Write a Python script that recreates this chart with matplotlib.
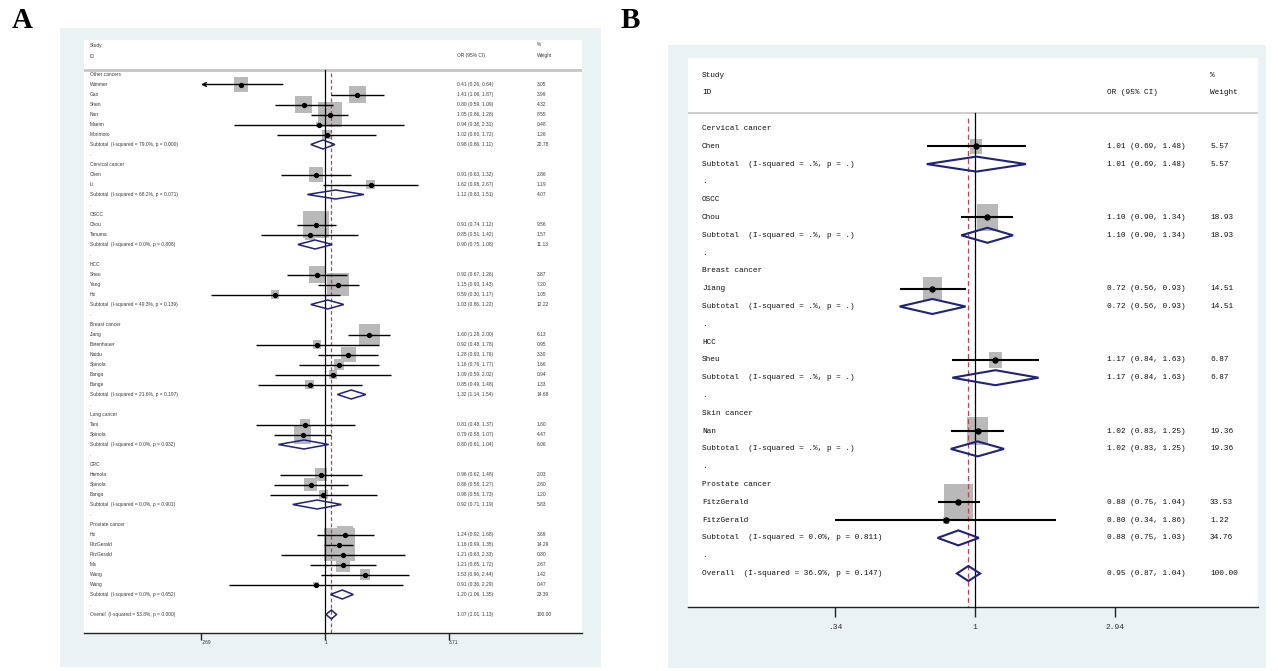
import numpy as np
import matplotlib.pyplot as plt
import matplotlib.transforms as mtransforms
from matplotlib.patches import Rectangle, Polygon

# ---------------------------------------------------------------
# Panel A: all cancers, by subgroup
# ---------------------------------------------------------------
a_groups = ["Other cancers", "Cervical cancer", "OSCC", "HCC",
            "Breast cancer", "Lung cancer", "CRC", "Prostate cancer"]
a_studies = [
    ["Wimmer", "Gao", "Shen", "Nan", "Maeim", "Morimoto"],
    ["Chen", "Li"],
    ["Chou", "Tanuma"],
    ["Sheu", "Yang", "Ho"],
    ["Jiang", "Betenhauer", "Naidu", "Spinola", "Banga", "Bange"],
    ["Tani", "Spinola"],
    ["Hemola", "Spinola", "Banga"],
    ["Ho", "FitzGerald", "FitzGerald", "Ma", "Wang", "Wang"],
]
a_or = [[0.41, 1.41, 0.80, 1.05, 0.94, 1.02], [0.91, 1.62], [0.91, 0.85],
        [0.92, 1.15, 0.59], [1.60, 0.92, 1.28, 1.16, 1.09, 0.85], [0.81, 0.79],
        [0.96, 0.86, 0.98], [1.24, 1.16, 1.21, 1.21, 1.53, 0.91]]
a_lo = [[0.26, 1.06, 0.59, 0.86, 0.38, 0.60], [0.63, 0.98], [0.74, 0.51],
        [0.67, 0.93, 0.30], [1.28, 0.48, 0.93, 0.76, 0.59, 0.49], [0.48, 0.58],
        [0.62, 0.58, 0.56], [0.92, 0.99, 0.63, 0.85, 0.96, 0.36]]
a_hi = [[0.64, 1.87, 1.09, 1.28, 2.31, 1.72], [1.32, 2.67], [1.12, 1.42],
        [1.26, 1.43, 1.17], [2.00, 1.78, 1.76, 1.77, 2.02, 1.48], [1.37, 1.07],
        [1.48, 1.27, 1.73], [1.68, 1.35, 2.33, 1.72, 2.44, 2.29]]
a_wt = [[3.05, 3.99, 4.32, 8.55, 0.48, 1.26], [2.86, 1.19], [9.56, 1.57],
        [3.87, 7.20, 1.05], [6.13, 0.95, 3.30, 1.66, 0.94, 1.33], [1.60, 4.47],
        [2.03, 2.60, 1.20], [3.69, 14.29, 0.80, 2.67, 1.42, 0.47]]
a_sub_i2 = ["79.0", "68.2", "0.0", "49.3", "21.6", "0.0", "0.0", "0.0"]
a_sub_p = ["0.000", "0.071", "0.808", "0.139", "0.197", "0.932", "0.901", "0.652"]
a_sub_or = [0.98, 1.12, 0.90, 1.03, 1.32, 0.80, 0.92, 1.20]
a_sub_lo = [0.86, 0.83, 0.75, 0.86, 1.14, 0.61, 0.71, 1.06]
a_sub_hi = [1.11, 1.51, 1.08, 1.22, 1.54, 1.04, 1.19, 1.35]
a_sub_wt = [22.78, 4.07, 11.13, 12.22, 14.68, 6.06, 5.83, 23.39]
a_all_i2, a_all_p = "53.8", "0.000"
a_all = [1.07, 1.01, 1.13]
a_ticks = [0.269, 1, 3.71]
a_ticklabels = [".269", "1", "3.71"]

# ---------------------------------------------------------------
# Panel B
# ---------------------------------------------------------------
b_groups = ["Cervical cancer", "OSCC", "Breast cancer", "HCC",
            "Skin cancer", "Prostate cancer"]
b_studies = [["Chen"], ["Chou"], ["Jiang"], ["Sheu"], ["Nan"],
             ["FitzGerald", "FitzGerald"]]
b_or = [[1.01], [1.10], [0.72], [1.17], [1.02], [0.88, 0.80]]
b_lo = [[0.69], [0.90], [0.56], [0.84], [0.83], [0.75, 0.34]]
b_hi = [[1.48], [1.34], [0.93], [1.63], [1.25], [1.04, 1.86]]
b_wt = [[5.57], [18.93], [14.51], [6.87], [19.36], [33.53, 1.22]]
b_sub_i2 = [".", ".", ".", ".", ".", "0.0"]
b_sub_p = [".", ".", ".", ".", ".", "0.811"]
b_sub_or = [1.01, 1.10, 0.72, 1.17, 1.02, 0.88]
b_sub_lo = [0.69, 0.90, 0.56, 0.84, 0.83, 0.75]
b_sub_hi = [1.48, 1.34, 0.93, 1.63, 1.25, 1.03]
b_sub_wt = [5.57, 18.93, 14.51, 6.87, 19.36, 34.76]
b_all_i2, b_all_p = "36.9", "0.147"
b_all = [0.95, 0.87, 1.04]
b_ticks = [0.34, 1, 2.94]
b_ticklabels = [".34", "1", "2.94"]

W, H = 1278, 671
BG = "#eaf2f3"
NAVY = "#1f237a"
BOXC = "#b9b9b9"
REFC = "#b5484a"


def build_rows(groups, studies, ors, los, his, wts, s_i2, s_p, s_or, s_lo, s_hi, s_wt,
               all_i2, all_p, overall):
    rows = []
    for g, group in enumerate(groups):
        rows.append(("head", group))
        for name, o, l, h, w in zip(studies[g], ors[g], los[g], his[g], wts[g]):
            rows.append(("study", name, o, l, h, w))
        lab = f"Subtotal  (I-squared = {s_i2[g]}%, p = {s_p[g]})"
        rows.append(("sub", lab, s_or[g], s_lo[g], s_hi[g], s_wt[g]))
        rows.append(("blank", "."))
    lab = f"Overall  (I-squared = {all_i2}%, p = {all_p})"
    rows.append(("sub", lab, overall[0], overall[1], overall[2], 100.0))
    return rows


def draw_panel(fig, rows, ticks, ticklabels, c):
    x0, y0, x1, y1 = c["box"]
    bx0, by0, bx1, by1 = c["bg"]
    fig.add_artist(Rectangle((bx0 / W, 1 - by1 / H), (bx1 - bx0) / W, (by1 - by0) / H,
                             transform=fig.transFigure, facecolor=BG, edgecolor="none", zorder=0))
    ax = fig.add_axes([x0 / W, 1 - y1 / H, (x1 - x0) / W, (y1 - y0) / H])
    ax.set_facecolor("white")
    ax.set_xscale("log")
    ppu, one = c["ppu"], c["one_px"]
    ax.set_xlim(np.exp((x0 - one) / ppu), np.exp((x1 - one) / ppu))
    r0, rp = c["row0"], c["row_px"]
    to_row = lambda ypx: (ypx - r0) / rp
    ax.set_ylim(to_row(y1), to_row(y0))
    for s in ["top", "left", "right"]:
        ax.spines[s].set_visible(False)
    ax.spines["bottom"].set_linewidth(c["lw_ax"])
    ax.spines["bottom"].set_color("#222222")
    ax.set_yticks([])
    ax.minorticks_off()
    ax.set_xticks(ticks)
    ax.set_xticklabels(ticklabels, fontsize=c["tick_fs"], family=c["font"], color="#333333")
    ax.tick_params(axis="x", which="major", direction="out", length=c["tick_len"],
                   width=c["lw_ax"], pad=c["tick_pad"], color="#222222")
    ax.tick_params(axis="x", which="minor", length=0)
    if c["tick_left"]:
        for lab in ax.get_xticklabels():
            lab.set_ha("left")

    tr = mtransforms.blended_transform_factory(fig.transFigure, ax.transData)
    tkw = dict(fontsize=c["fs"], family=c["font"], color=c["txt"], va="center", transform=tr)

    # header
    ax.text(c["name_x"] / W, to_row(c["study_y"]), "Study", **tkw)
    ax.text(c["name_x"] / W, to_row(c["id_y"]), "ID", **tkw)
    ax.text(c["or_x"] / W, to_row(c["id_y"]), "OR (95% CI)", **tkw)
    ax.text(c["wt_x"] / W, to_row(c["study_y"]), "%", **tkw)
    ax.text(c["wt_x"] / W, to_row(c["id_y"]), "Weight", **tkw)
    hl = to_row(c["hline_y"])
    ax.axhline(hl, color="#c6c6c6", lw=c["lw_hl"], zorder=1)

    # reference lines
    bottom = to_row(y1)
    overall = rows[-1][2]
    ax.plot([1, 1], [hl, bottom], color="black", lw=c["lw_ref"], zorder=3, clip_on=False)
    ax.plot([overall, overall], [hl + 0.3, bottom], color=REFC, lw=c["lw_ref"],
            dashes=c["dash"], zorder=3)

    xmin_tick = ticks[0]
    for i, row in enumerate(rows):
        kind = row[0]
        ax.text(c["name_x"] / W, i, row[1], **tkw)
        if kind in ("head", "blank"):
            continue
        o, lo, hi, wt = row[2:]
        ax.text(c["or_x"] / W, i, f"{o:.2f} ({lo:.2f}, {hi:.2f})", **tkw)
        ax.text(c["wt_x"] / W, i, f"{wt:.2f}", **tkw)
        if kind == "study":
            side = c["box_k"] * np.sqrt(wt)
            hw = side / 2 / ppu
            hh = side * c["box_aspect"] / 2 / rp
            ax.add_patch(Rectangle((o * np.exp(-hw), i - hh), o * np.exp(hw) - o * np.exp(-hw),
                                   2 * hh, facecolor=BOXC, edgecolor="none", zorder=2))
            if lo < xmin_tick:
                ax.annotate("", xy=(xmin_tick, i), xytext=(hi, i),
                            arrowprops=dict(arrowstyle="->", lw=c["lw_ci"], color="black",
                                            shrinkA=0, shrinkB=0, mutation_scale=c["arrow_ms"]),
                            zorder=4)
            else:
                ax.plot([lo, hi], [i, i], color="black", lw=c["lw_ci"], zorder=4,
                        solid_capstyle="butt")
            ax.plot([o], [i], marker="o", ms=c["dot"], color="black", zorder=5)
        else:
            dh = c["dia_h"] / rp
            ax.add_patch(Polygon([(lo, i), (o, i - dh), (hi, i), (o, i + dh)], closed=True,
                                 facecolor="none", edgecolor=NAVY, lw=c["lw_dia"], zorder=5))
    return ax


fig = plt.figure(figsize=(W / 100, H / 100), dpi=100)
fig.patch.set_facecolor("white")

cfg_a = dict(box=(84, 40, 582, 633), bg=(60, 28, 601, 667), one_px=325, ppu=94.4,
             row0=74.5, row_px=10.0, name_x=90, or_x=457, wt_x=537,
             study_y=45, id_y=56, hline_y=70,
             font="Liberation Sans", fs=3.5, tick_fs=3.5, tick_len=5, tick_pad=0.3,
             tick_left=True, lw_ax=1.0, lw_hl=2.0, lw_ref=0.9, dash=(3, 2),
             box_k=8.2, box_aspect=1.05, lw_ci=1.0, lw_dia=1.1, dia_h=4.5, dot=2.8,
             arrow_ms=7, txt="#3a3a3a")
cfg_b = dict(box=(688, 58, 1258, 607), bg=(668, 45, 1266, 668), one_px=975, ppu=130.0,
             row0=128.5, row_px=17.8, name_x=702, or_x=1107, wt_x=1210,
             study_y=76, id_y=93, hline_y=113,
             font="Liberation Mono", fs=5.6, tick_fs=5.8, tick_len=7, tick_pad=5,
             tick_left=False, lw_ax=1.0, lw_hl=1.2, lw_ref=0.9, dash=(4, 2.5),
             box_k=4.95, box_aspect=1.25, lw_ci=1.5, lw_dia=1.5, dia_h=7.5, dot=3.6,
             arrow_ms=8, txt="#111111")

rows_a = build_rows(a_groups, a_studies, a_or, a_lo, a_hi, a_wt, a_sub_i2, a_sub_p,
                    a_sub_or, a_sub_lo, a_sub_hi, a_sub_wt, a_all_i2, a_all_p, a_all)
rows_b = build_rows(b_groups, b_studies, b_or, b_lo, b_hi, b_wt, b_sub_i2, b_sub_p,
                    b_sub_or, b_sub_lo, b_sub_hi, b_sub_wt, b_all_i2, b_all_p, b_all)

draw_panel(fig, rows_a, a_ticks, a_ticklabels, cfg_a)
draw_panel(fig, rows_b, b_ticks, b_ticklabels, cfg_b)

fig.text(22 / W, 1 - 20 / H, "A", fontsize=21, fontweight="bold", family="Liberation Serif",
         ha="center", va="center")
fig.text(630 / W, 1 - 20 / H, "B", fontsize=21, fontweight="bold", family="Liberation Serif",
         ha="center", va="center")

fig.savefig("out.png", dpi=100, facecolor="white")
